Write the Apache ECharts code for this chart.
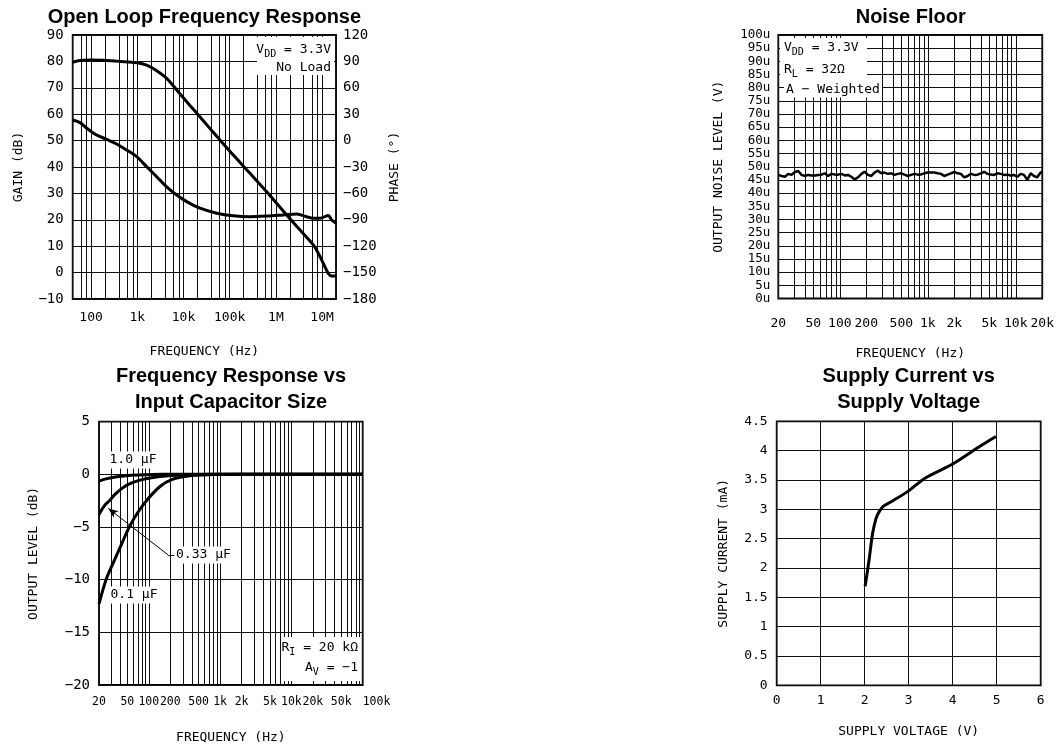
<!DOCTYPE html>
<html><head><meta charset="utf-8">
<script src="https://cdn.jsdelivr.net/npm/echarts@6/dist/echarts.min.js"></script>
<style>html,body{margin:0;padding:0;background:#fff}#c{width:1057px;height:745px}</style>
</head><body><div id="c"></div>
<script>
// ---------- Open Loop Frequency Response ----------
const olGainFreq = [40, 57.5, 94.8, 184, 423, 970, 1600, 2630, 4330, 7130, 11740, 20950, 34440, 61690, 119700, 275300, 632400, 1714000, 3330000, 6460000, 8280000, 10620000, 13620000, 16150000, 20000000];
const olGainDb = [79.7, 80.3, 80.5, 80.4, 80.0, 79.5, 78.6, 76.5, 73.6, 69.2, 64.7, 59.7, 55.3, 50.2, 44.5, 37.6, 30.6, 21.8, 16.1, 10.5, 7.3, 3.5, -0.3, -1.3, -1.3];
const olPhaseFreq = [40, 57.5, 80.4, 132, 218, 359, 590, 970, 1600, 2630, 4330, 7130, 11740, 22760, 52380, 119700, 275300, 632400, 1445000, 2820000, 4650000, 6460000, 9020000, 13620000, 16150000, 20000000];
const olPhaseDeg = [23.4, 20.4, 14.1, 6.3, 1.5, -3.9, -10.8, -18.3, -29.7, -41.1, -52.5, -61.8, -69.3, -76.8, -82.5, -85.5, -86.5, -85.8, -84.5, -83.4, -86.5, -88.2, -88.2, -85.1, -90.3, -93.9];
const olGridFreq = [40, 60, 80, 100, 200, 400, 600, 800, 1000, 2000, 4000, 6000, 8000, 10000, 20000, 40000, 60000, 80000, 100000, 200000, 400000, 600000, 800000, 1000000, 2000000, 4000000, 6000000, 8000000, 10000000, 20000000];
const olTickVals = [100, 1000, 10000, 100000, 1000000, 10000000];
const olTickLabels = ['100', '1k', '10k', '100k', '1M', '10M'];

// ---------- Noise Floor ----------
const nfFreq = [20, 21.8, 23.8, 26.0, 28.3, 30.9, 33.7, 36.7, 40.1, 43.7, 47.7, 52.0, 56.7, 61.9, 67.5, 73.6, 80.3, 87.6, 95.5, 104, 114, 124, 135, 148, 161, 176, 191, 209, 228, 248, 271, 296, 323, 352, 384, 419, 457, 498, 543, 592, 646, 705, 769, 839, 915, 998, 1089, 1188, 1295, 1413, 1541, 1681, 1834, 2000, 2182, 2380, 2596, 2831, 3088, 3368, 3674, 4007, 4371, 4768, 5200, 5672, 6187, 6748, 7360, 8028, 8757, 9551, 10418, 11363, 12394, 13519, 14745, 16083, 17542, 19134, 20000];
const nfLevel = [46.9, 46.5, 46.2, 47.3, 46.9, 48.0, 48.4, 46.9, 46.5, 46.9, 46.7, 46.7, 46.9, 47.0, 47.5, 46.5, 47.3, 47.1, 47.0, 47.3, 46.7, 46.9, 46.2, 45.2, 46.0, 47.3, 48.1, 46.9, 46.5, 47.8, 48.5, 47.5, 47.8, 47.3, 47.5, 46.9, 47.3, 47.5, 47.0, 46.5, 46.9, 47.3, 47.0, 47.1, 47.5, 47.8, 47.8, 47.8, 47.5, 47.3, 46.5, 47.0, 47.5, 48.1, 47.5, 47.3, 46.0, 46.5, 47.3, 46.9, 47.0, 47.5, 48.1, 47.3, 47.1, 46.9, 47.5, 47.3, 46.9, 47.0, 46.7, 46.9, 46.2, 47.3, 46.9, 45.0, 47.5, 46.5, 46.0, 47.8, 48.1];
const nfGridFreq = [20, 30, 40, 50, 60, 70, 80, 90, 100, 200, 300, 400, 500, 600, 700, 800, 900, 1000, 2000, 3000, 4000, 5000, 6000, 7000, 8000, 9000, 10000, 20000];
const nfTickVals = [20, 50, 100, 200, 500, 1000, 2000, 5000, 10000, 20000];
const nfTickLabels = ['20', '50', '100', '200', '500', '1k', '2k', '5k', '10k', '20k'];

// ---------- Frequency Response vs Input Capacitor Size ----------
const frFreq10 = [20, 24.3, 33.5, 51.5, 88.3, 151.5, 300, 1000, 100000];
const frDb10 = [-0.65, -0.45, -0.25, -0.1, -0.03, 0, 0, 0, 0];
const frFreq033 = [20, 24.3, 28.5, 33.5, 41.6, 51.5, 71.1, 109.7, 187.6, 357.8, 760, 100000];
const frDb033 = [-3.8, -2.9, -2.45, -1.9, -1.35, -0.95, -0.6, -0.32, -0.13, -0.04, 0, 0];
const frFreq01 = [20, 25.1, 31.7, 41.6, 53.2, 71.1, 98.2, 143.4, 209.2, 357.8, 682, 2000, 100000];
const frDb01 = [-12.3, -10.0, -8.4, -6.6, -5.0, -3.55, -2.3, -1.15, -0.5, -0.16, -0.04, 0, 0];
const frGridFreq = [20, 30, 40, 50, 60, 70, 80, 90, 100, 200, 300, 400, 500, 600, 700, 800, 900, 1000, 2000, 3000, 4000, 5000, 6000, 7000, 8000, 9000, 10000, 20000, 30000, 40000, 50000, 60000, 70000, 80000, 90000, 100000];
const frTickVals = [20, 50, 100, 200, 500, 1000, 2000, 5000, 10000, 20000, 50000, 100000];
const frTickLabels = ['20', '50', '100', '200', '500', '1k', '2k', '5k', '10k', '20k', '50k', '100k'];

// ---------- Supply Current vs Supply Voltage ----------
const scVolt = [2.01, 2.10, 2.18, 2.26, 2.33, 2.42, 2.58, 2.99, 3.37, 4.02, 4.55, 4.98];
const scCurr = [1.69, 2.14, 2.59, 2.85, 2.96, 3.05, 3.12, 3.31, 3.53, 3.78, 4.04, 4.24];

const FONT = "'DejaVu Sans Mono', monospace";
const TFONT = "'Liberation Sans', Arial, sans-serif";
const pairs = (xs, ys) => xs.map((x, i) => [x, ys[i]]);
const minus = v => String(v).replace('-', '\u2212');

function logX(gridIndex, min, max, gridVals, tickVals, tickLabels, margin, fontSize, nameGap, extra) {
  return {
    type: 'log', logBase: 10, gridIndex, min, max: max * 1.00001,
    axisLine: {show: false},
    axisTick: {show: false, customValues: gridVals},
    splitLine: {show: true, lineStyle: {color: '#111', width: 1}},
    axisLabel: Object.assign({
      customValues: tickVals, margin, color: '#000', fontFamily: FONT, fontSize,
      showMinLabel: true, showMaxLabel: true, hideOverlap: false,
      formatter: v => { const i = tickVals.findIndex(t => Math.abs(t - v) / t < 1e-4); return i >= 0 ? tickLabels[i] : ''; }
    }, extra || {}),
    name: 'FREQUENCY (Hz)', nameLocation: 'middle', nameGap,
    nameTextStyle: {color: '#000', fontFamily: FONT, fontSize: 13}
  };
}
function valAxis(gridIndex, min, max, interval, opts) {
  return Object.assign({
    type: 'value', gridIndex, min, max, interval,
    axisLine: {show: false}, axisTick: {show: false},
    splitLine: {show: true, lineStyle: {color: '#111', width: 1}},
    nameLocation: 'middle', nameRotate: 90,
    nameTextStyle: {color: '#000', fontFamily: FONT, fontSize: 13}
  }, opts);
}
const lbl = (margin, fontSize, formatter) => ({margin, color: '#000', fontFamily: FONT, fontSize, formatter});
const curve = {color: '#000', width: 3};
const subRich = {a: {fontFamily: FONT, fontSize: 13, fill: '#000', lineHeight: 18}, s: {fontFamily: FONT, fontSize: 10, fill: '#000', lineHeight: 18, verticalAlign: 'bottom', padding: [6, 0, 0, 0]}};

const gridBase = {show: true, borderColor: '#000', borderWidth: 1.8, containLabel: false};
const titleStyle = {fontFamily: TFONT, fontSize: 20, fontWeight: 'bold', color: '#000', lineHeight: 26};
const option = {
  animation: false,
  backgroundColor: '#fff',
  title: [
    {text: 'Open Loop Frequency Response', left: 204.4, top: 4.5, textAlign: 'center', padding: 0, textStyle: titleStyle},
    {text: 'Noise Floor', left: 910.7, top: 4.5, textAlign: 'center', padding: 0, textStyle: titleStyle},
    {text: 'Frequency Response vs\nInput Capacitor Size', left: 231, top: 363.7, textAlign: 'center', padding: 0, textStyle: titleStyle},
    {text: 'Supply Current vs\nSupply Voltage', left: 908.7, top: 363.7, textAlign: 'center', padding: 0, textStyle: titleStyle}
  ],
  grid: [
    Object.assign({left: 72.7, top: 35, width: 263.3, height: 264}, gridBase),
    Object.assign({left: 778.3, top: 35, width: 264.7, height: 263.5}, gridBase),
    Object.assign({left: 99, top: 421.7, width: 263.7, height: 263.3}, gridBase),
    Object.assign({left: 776.7, top: 421.3, width: 264, height: 264}, gridBase)
  ],
  xAxis: [
    logX(0, 40, 20000000, olGridFreq, olTickVals, olTickLabels, 12, 13, 46),
    logX(1, 20, 20000, nfGridFreq, nfTickVals, nfTickLabels, 19, 13, 49),
    logX(2, 20, 100000, frGridFreq, frTickVals, frTickLabels, 11, 11.5, 46, {alignMaxLabel: 'left'}),
    valAxis(3, 0, 6, 1, {nameRotate: 0, name: 'SUPPLY VOLTAGE (V)', nameGap: 40, axisLabel: lbl(9, 13)})
  ],
  yAxis: [
    valAxis(0, -10, 90, 10, {name: 'GAIN (dB)', nameGap: 48, axisLabel: lbl(9, 14, minus)}),
    valAxis(0, -180, 120, 30, {position: 'right', splitLine: {show: false}, name: 'PHASE (\u00b0)', nameGap: 52, axisLabel: lbl(7, 14, minus)}),
    valAxis(1, 0, 100, 5, {name: 'OUTPUT NOISE LEVEL (V)', nameGap: 53, axisLabel: lbl(8, 12.5, v => v + 'u')}),
    valAxis(2, -20, 5, 5, {name: 'OUTPUT LEVEL (dB)', nameGap: 59, axisLabel: lbl(9, 14, minus)}),
    valAxis(3, 0, 4.5, 0.5, {name: 'SUPPLY CURRENT (mA)', nameGap: 47, axisLabel: lbl(9, 13)})
  ],
  series: [
    {type: 'line', name: 'Gain', xAxisIndex: 0, yAxisIndex: 0, data: pairs(olGainFreq, olGainDb), showSymbol: false, smooth: 0.3, lineStyle: curve},
    {type: 'line', name: 'Phase', xAxisIndex: 0, yAxisIndex: 1, data: pairs(olPhaseFreq, olPhaseDeg), showSymbol: false, smooth: 0.3, lineStyle: curve},
    {type: 'line', name: 'Noise', xAxisIndex: 1, yAxisIndex: 2, data: pairs(nfFreq, nfLevel), showSymbol: false, lineStyle: {color: '#000', width: 2.5}},
    {type: 'line', name: '1.0 uF', xAxisIndex: 2, yAxisIndex: 3, data: pairs(frFreq10, frDb10), showSymbol: false, smooth: 0.3, lineStyle: curve},
    {type: 'line', name: '0.33 uF', xAxisIndex: 2, yAxisIndex: 3, data: pairs(frFreq033, frDb033), showSymbol: false, smooth: 0.3, lineStyle: curve,
      markLine: {silent: true, animation: false, symbol: ['none', 'none'], label: {show: false},
        lineStyle: {color: '#000', width: 1, type: 'solid'},
        data: [
          [{coord: [187.5, -7.66], symbol: 'none'}, {coord: [27, -3.23], symbol: 'arrow', symbolSize: [6, 10]}],
          [{coord: [187.5, -7.66], symbol: 'none'}, {coord: [228, -7.66], symbol: 'none'}]
        ]}},
    {type: 'line', name: '0.1 uF', xAxisIndex: 2, yAxisIndex: 3, data: pairs(frFreq01, frDb01), showSymbol: false, smooth: 0.3, lineStyle: curve},
    {type: 'line', name: 'Supply', xAxisIndex: 3, yAxisIndex: 4, data: pairs(scVolt, scCurr), showSymbol: false, smooth: 0.3, lineStyle: curve}
  ],
  graphic: [
    // Open loop annotation box
    {type: 'rect', z: 100, shape: {x: 257, y: 37, width: 77, height: 38}, style: {fill: '#fff'}},
    {type: 'text', z: 101, x: 331, y: 50, style: {text: '{a|V}{s|DD}{a| = 3.3V}', align: 'right', verticalAlign: 'middle', rich: subRich}},
    {type: 'text', z: 101, x: 331, y: 68, style: {text: 'No Load', align: 'right', verticalAlign: 'middle', fontFamily: FONT, fontSize: 13, fill: '#000'}},
    // Noise floor annotation box
    {type: 'rect', z: 100, shape: {x: 780, y: 38, width: 87, height: 46}, style: {fill: '#fff'}},
    {type: 'text', z: 101, x: 784, y: 48, style: {text: '{a|V}{s|DD}{a| = 3.3V}', align: 'left', verticalAlign: 'middle', rich: subRich}},
    {type: 'text', z: 101, x: 784, y: 70, style: {text: '{a|R}{s|L}{a| = 32\u03a9}', align: 'left', verticalAlign: 'middle', rich: subRich}},
    {type: 'text', z: 101, x: 784, y: 90, style: {text: 'A \u2212 Weighted', align: 'left', verticalAlign: 'middle', fontFamily: FONT, fontSize: 13, fill: '#000', backgroundColor: '#fff', padding: [1, 2, 1, 2]}},
    // Frequency response labels
    {type: 'text', z: 101, x: 133, y: 460, style: {text: '1.0 \u03bcF', align: 'center', verticalAlign: 'middle', fontFamily: FONT, fontSize: 13, fill: '#000', backgroundColor: '#fff', padding: [2, 3, 2, 3]}},
    {type: 'text', z: 101, x: 175, y: 555, style: {text: '0.33 \u03bcF', align: 'left', verticalAlign: 'middle', fontFamily: FONT, fontSize: 13, fill: '#000', backgroundColor: '#fff', padding: [2, 3, 2, 1]}},
    {type: 'text', z: 101, x: 134, y: 595, style: {text: '0.1 \u03bcF', align: 'center', verticalAlign: 'middle', fontFamily: FONT, fontSize: 13, fill: '#000', backgroundColor: '#fff', padding: [2, 3, 2, 3]}},
    {type: 'rect', z: 100, shape: {x: 282, y: 637, width: 79, height: 44}, style: {fill: '#fff'}},
    {type: 'text', z: 101, x: 358, y: 648, style: {text: '{a|R}{s|I}{a| = 20 k\u03a9}', align: 'right', verticalAlign: 'middle', rich: subRich}},
    {type: 'text', z: 101, x: 358, y: 668, style: {text: '{a|A}{s|V}{a| = \u22121}', align: 'right', verticalAlign: 'middle', rich: subRich}}
  ]
};
const chart = echarts.init(document.getElementById('c'), null, {renderer: 'canvas'});
chart.setOption(option);
</script>
</body></html>
